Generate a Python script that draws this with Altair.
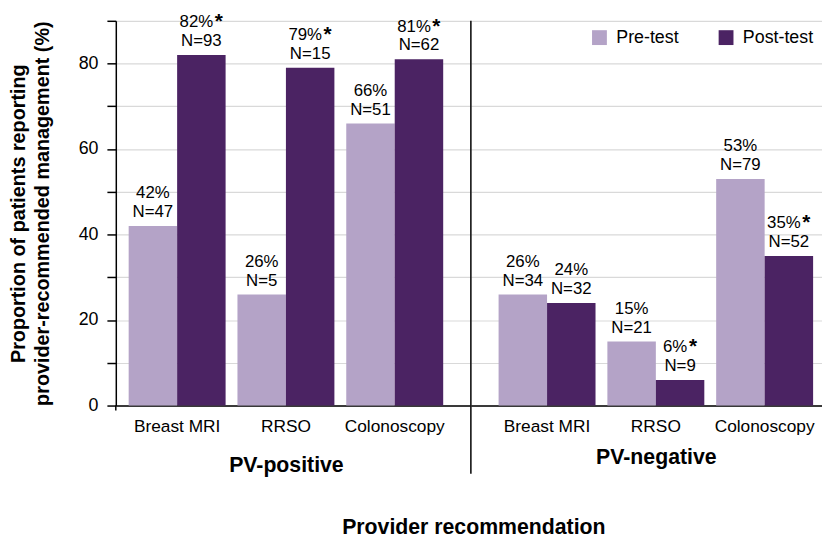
import altair as alt
import pandas as pd

categories = ["Breast MRI", "RRSO", "Colonoscopy"]
tests = ["Pre-test", "Post-test"]

pos_pre = [42, 26, 66]
pos_pre_n = [47, 5, 51]
pos_post = [82, 79, 81]
pos_post_n = [93, 15, 62]
pos_post_star = [True, True, True]

neg_pre = [26, 15, 53]
neg_pre_n = [34, 21, 79]
neg_post = [24, 6, 35]
neg_post_n = [32, 9, 52]
neg_post_star = [False, True, True]

colors = ["#b4a3c7", "#4b2363"]
y_title = ["Proportion of patients reporting", "provider-recommended management (%)"]

FONT = "Liberation Sans"
H = 389


def frame(pre, pre_n, post, post_n, post_star):
    rows = []
    for i, c in enumerate(categories):
        rows.append(dict(cat=c, test="Pre-test", value=pre[i], n=pre_n[i], star=False))
        rows.append(dict(cat=c, test="Post-test", value=post[i], n=post_n[i], star=post_star[i]))
    df = pd.DataFrame(rows)
    df["pct"] = df["value"].astype(str) + "%"
    df["ntext"] = "N=" + df["n"].astype(str)
    return df


def panel(df, width, pad_outer, align, title, title_x, title_y, left):
    xscale = alt.Scale(domain=categories, paddingInner=0.109, paddingOuter=pad_outer, align=align)
    yscale = alt.Scale(domain=[0, 90], nice=False)
    ticks = list(range(0, 91, 10))
    if left:
        yaxis = alt.Axis(values=ticks, labelExpr="datum.value % 20 == 0 ? datum.label : ''",
                         title=y_title, grid=True)
    else:
        yaxis = alt.Axis(values=ticks, labels=False, ticks=False, domain=False, title=None, grid=True)
    xaxis = alt.Axis(title=title, titleX=title_x, titleY=title_y, titleBaseline="middle",
                     ticks=False, labelAngle=0)
    base = alt.Chart(df).encode(
        x=alt.X("cat:N", scale=xscale, axis=xaxis, sort=categories),
        xOffset=alt.XOffset("test:N", scale=alt.Scale(domain=tests, paddingInner=0, paddingOuter=0)),
        y=alt.Y("value:Q", scale=yscale, axis=yaxis),
    )
    if left:
        legend = None
    else:
        legend = alt.Legend(orient="top-right", direction="horizontal", title=None,
                            symbolType="square", symbolSize=225, symbolStrokeWidth=0,
                            labelFontSize=18, labelFont=FONT, labelColor="black",
                            offset=8, columnPadding=38, labelOffset=8, padding=0)
    bars = base.mark_bar().encode(
        color=alt.Color("test:N", scale=alt.Scale(domain=tests, range=colors), legend=legend)
    )
    tstyle = dict(font=FONT, fontSize=17, color="black", baseline="middle")
    pct_plain = base.transform_filter("!datum.star").mark_text(dy=-33, **tstyle).encode(text="pct:N")
    pct_star = base.transform_filter("datum.star").mark_text(dx=-5, dy=-33, **tstyle).encode(text="pct:N")
    ntext = base.mark_text(dy=-14, **tstyle).encode(text="ntext:N")
    astyle = dict(font=FONT, fontSize=21, fontWeight="bold", color="black", baseline="alphabetic", text="*")
    star2 = base.transform_filter("datum.star && datum.value >= 10").mark_text(dx=17.5, dy=-27, **astyle)
    star1 = base.transform_filter("datum.star && datum.value < 10").mark_text(dx=13, dy=-27, **astyle)
    one = pd.DataFrame({"a": [0]})
    if left:
        extra = alt.Chart(one).mark_rule(color="black", strokeWidth=1.5).encode(
            x=alt.value(0), y=alt.value(H), y2=alt.value(H + 5))
    else:
        extra = alt.Chart(one).mark_rule(color="black", strokeWidth=1.5).encode(
            x=alt.value(0), y=alt.value(0), y2=alt.value(H + 69))
    return alt.layer(bars, pct_plain, pct_star, ntext, star2, star1, extra).properties(
        width=width, height=H)


left = panel(frame(pos_pre, pos_pre_n, pos_post, pos_post_n, pos_post_star),
             358, 0.1818, 0.325, "PV-positive", 172, 61, True)
right = panel(frame(neg_pre, neg_pre_n, neg_post, neg_post_n, neg_post_star),
              355, 0.1682, 0.757, "PV-negative", 187, 53, False)

chart = alt.hconcat(left, right, spacing=0).resolve_legend(color="independent").properties(
    title=alt.TitleParams("Provider recommendation", orient="bottom", anchor="middle",
                          fontSize=21.5, fontWeight="bold", font=FONT, color="black",
                          offset=41, dx=59),
    padding={"left": 0, "top": 0, "right": 0, "bottom": 0},
).configure_view(stroke=None).configure_axis(
    labelFont=FONT, titleFont=FONT, labelColor="black", titleColor="black",
    domainColor="black", domainWidth=1.5, tickColor="black", tickWidth=1.5,
    gridColor="#d9d9d9", gridWidth=1.2,
).configure_axisX(
    labelFontSize=17.5, labelPadding=12, titleFontSize=21.5, titleFontWeight="bold",
).configure_axisY(
    labelFontSize=18, labelPadding=9, tickSize=9, titleFontSize=20, titleFontWeight="bold",
    titleLineHeight=24, titlePadding=26,
)

chart.save("out.html", embed_options={"renderer": "svg", "actions": False})
